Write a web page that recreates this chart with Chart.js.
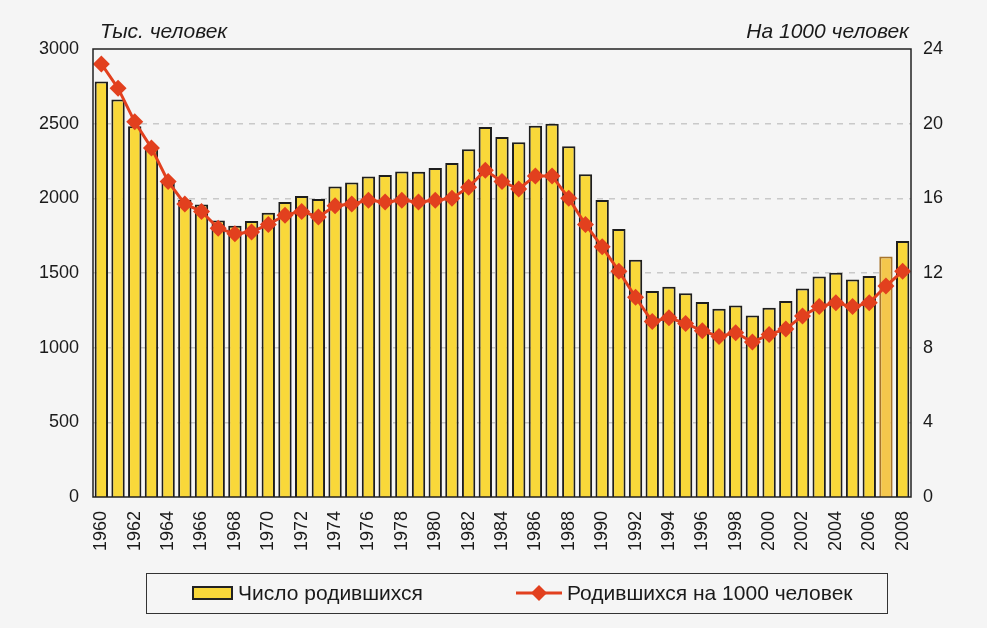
<!DOCTYPE html>
<html lang="ru">
  <head>
    <meta charset="UTF-8" />
    <title>Рождаемость</title>
    <script src="https://cdn.jsdelivr.net/npm/chart.js"></script>
    <style>
      html, body { margin: 0; padding: 0; background: #f5f5f5; }
      body { width: 987px; height: 628px; position: relative; overflow: hidden;
        font-family: "Liberation Sans", Arial, sans-serif; color: #1a1a1a; }
      #wrap { position: absolute; left: 0; top: 0; width: 987px; height: 628px; }
      .legend { position: absolute; left: 146px; top: 573px; width: 742px; height: 41px;
        border: 1.5px solid #333; box-sizing: border-box; font-size: 21px; }
      .legend .item { position: absolute; top: 7px; display: flex; align-items: center; white-space: nowrap; }
      .legend .box { width: 37px; height: 10px; border: 2px solid #222; margin-right: 5px; }
      .legend canvas { margin-right: 5px; }
    </style>
  </head>
  <body>
    <div id="wrap"><canvas id="chart" width="987" height="628"></canvas></div>
    <div class="legend">
      <div class="item" style="left:45px"><span class="box" id="lgBar"></span>Число родившихся</div>
      <div class="item" style="left:369px"><canvas id="lgLine" width="46" height="20"></canvas>Родившихся на 1000 человек</div>
    </div>
    <script>
      const years = [];
      for (let y = 1960; y <= 2008; y++) years.push(String(y));

      // тыс. человек
      const births = [
        2782, 2662, 2483, 2331, 2121, 1990, 1958, 1851, 1817, 1848,
        1904, 1975, 2015, 1995, 2080, 2106, 2147, 2157, 2179, 2178,
        2203, 2237, 2328, 2478, 2410, 2375, 2486, 2500, 2348, 2161,
        1989, 1795, 1588, 1379, 1408, 1364, 1305, 1260, 1283, 1215,
        1267, 1312, 1397, 1477, 1502, 1457, 1480, 1610, 1714
      ];

      // на 1000 человек
      const rate = [
        23.2, 21.9, 20.1, 18.7, 16.9, 15.7, 15.3, 14.4, 14.1, 14.2,
        14.6, 15.1, 15.3, 15.0, 15.6, 15.7, 15.9, 15.8, 15.9, 15.8,
        15.9, 16.0, 16.6, 17.5, 16.9, 16.5, 17.2, 17.2, 16.0, 14.6,
        13.4, 12.1, 10.7, 9.4, 9.6, 9.3, 8.9, 8.6, 8.8, 8.3,
        8.7, 9.0, 9.7, 10.2, 10.4, 10.2, 10.4, 11.3, 12.1
      ];

      const barColor = "#f9d83a";
      const barBorder = "#1e1e1e";
      const lineColor = "#e2401e";

      const barFill = years.map((y) => (y === "2007" ? "#f4c74c" : barColor));
      const barEdge = years.map((y) => (y === "2007" ? "#a8752c" : barBorder));

      const tickFont = { family: "Liberation Sans, Arial, sans-serif", size: 18 };

      // подписи осей сверху и рамка
      const axisTitles = {
        id: "axisTitles",
        afterDraw(chart) {
          const { ctx, chartArea } = chart;
          ctx.save();
          ctx.font = "italic 21px Liberation Sans, Arial, sans-serif";
          ctx.fillStyle = "#1a1a1a";
          ctx.textBaseline = "alphabetic";
          ctx.textAlign = "left";
          ctx.fillText("Тыс. человек", chartArea.left + 7, 38);
          ctx.textAlign = "right";
          ctx.fillText("На 1000 человек", chartArea.right - 2, 38);
          ctx.strokeStyle = "#222";
          ctx.lineWidth = 1.5;
          ctx.strokeRect(chartArea.left, chartArea.top, chartArea.right - chartArea.left, chartArea.bottom - chartArea.top);
          ctx.restore();
        },
      };

      new Chart(document.getElementById("chart"), {
        data: {
          labels: years,
          datasets: [
            {
              type: "line",
              label: "Родившихся на 1000 человек",
              data: rate,
              yAxisID: "y1",
              borderColor: lineColor,
              backgroundColor: lineColor,
              borderWidth: 3,
              pointStyle: "rectRot",
              pointRadius: 8.5,
              pointBorderWidth: 0,
              tension: 0,
              order: 0,
            },
            {
              type: "bar",
              label: "Число родившихся",
              data: births,
              yAxisID: "y",
              backgroundColor: barFill,
              borderColor: barEdge,
              borderWidth: 2,
              barPercentage: 0.8,
              categoryPercentage: 1,
              order: 1,
            },
          ],
        },
        options: {
          responsive: false,
          animation: false,
          layout: { padding: { top: 49, left: 0, right: 0, bottom: 0 } },
          plugins: { legend: { display: false }, tooltip: { enabled: false } },
          scales: {
            x: {
              grid: { display: false },
              border: { display: false },
              ticks: {
                autoSkip: false,
                maxRotation: 90,
                minRotation: 90,
                padding: 6,
                color: "#1a1a1a",
                font: tickFont,
                callback: (v, i) => (i % 2 === 0 ? years[i] : ""),
              },
              afterFit: (s) => { s.height = 131; },
            },
            y: {
              position: "left",
              min: 0,
              max: 3000,
              ticks: { stepSize: 500, color: "#1a1a1a", font: tickFont, padding: 14, callback: (v) => String(v) },
              grid: {
                color: "#c9c9c9",
                drawTicks: false,
                lineWidth: (c) => (c.tick.value === 0 || c.tick.value === 3000 ? 0 : 1.5),
              },
              border: { display: false, dash: [6, 6] },
              afterFit: (s) => { s.width = 93; },
            },
            y1: {
              position: "right",
              min: 0,
              max: 24,
              ticks: { stepSize: 4, color: "#1a1a1a", font: tickFont, padding: 12, callback: (v) => String(v) },
              grid: { display: false, drawTicks: false },
              border: { display: false },
              afterFit: (s) => { s.width = 76; },
            },
          },
        },
        plugins: [axisTitles],
      });

      document.getElementById("lgBar").style.background = barColor;
      const lg = document.getElementById("lgLine").getContext("2d");
      lg.strokeStyle = lineColor;
      lg.lineWidth = 3;
      lg.beginPath(); lg.moveTo(0, 10); lg.lineTo(46, 10); lg.stroke();
      lg.fillStyle = lineColor;
      lg.beginPath(); lg.moveTo(23, 2); lg.lineTo(31, 10); lg.lineTo(23, 18); lg.lineTo(15, 10); lg.closePath(); lg.fill();
    </script>
  </body>
</html>
